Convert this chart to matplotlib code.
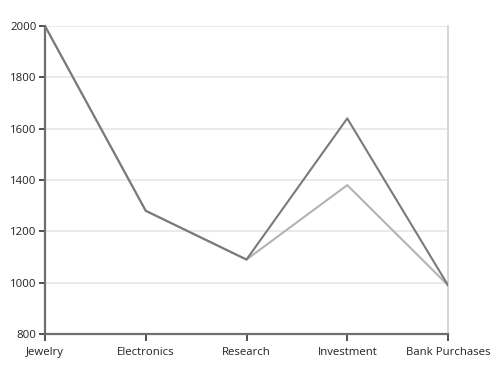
import matplotlib.pyplot as plt

categories = ["Jewelry", "Electronics", "Research", "Investment", "Bank Purchases"]
series_a = [2000, 1280, 1090, 1640, 990]
series_b = [2000, 1280, 1090, 1380, 990]

plt.rcParams["font.family"] = ["Open Sans", "DejaVu Sans"]

fig = plt.figure(figsize=(4.98, 3.78), dpi=100)
ax = fig.add_axes([45 / 498, 44 / 378, 403 / 498, 308 / 378])

x = list(range(len(categories)))
ax.plot(x, series_b, color="#b3b3b3", lw=1.5, zorder=3)
ax.plot(x, series_a, color="#7a7a7a", lw=1.5, zorder=4)

ax.set_xlim(0, len(categories) - 1)
ax.set_ylim(800, 2000)
ax.set_yticks(range(800, 2001, 200))
ax.set_xticks(x)
ax.set_xticklabels(categories)

ax.grid(axis="y", color="#e6e6e6", lw=1.2)
ax.set_axisbelow(True)

for s in ["left", "bottom"]:
    ax.spines[s].set_color("#6e6e6e")
    ax.spines[s].set_linewidth(1.6)
ax.spines["top"].set_visible(False)
ax.spines["right"].set_color("#d0d0d0")
ax.spines["right"].set_linewidth(1.2)

ax.tick_params(axis="both", colors="#333333", labelsize=8.2, length=5, width=1.2,
               direction="out", labelcolor="#222222")
ax.tick_params(axis="y", length=4, pad=2)
ax.tick_params(axis="x", pad=4.5)

fig.savefig("out.png", dpi=100)
